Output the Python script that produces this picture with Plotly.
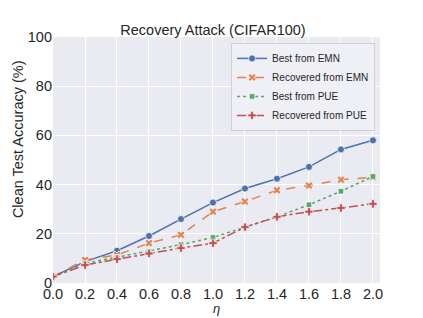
import plotly.graph_objects as go

eta = [0.0, 0.2, 0.4, 0.6, 0.8, 1.0, 1.2, 1.4, 1.6, 1.8, 2.0]
best_emn = [2.6, 8.7, 13.1, 19.1, 26.0, 32.7, 38.4, 42.4, 47.2, 54.3, 58.0]
rec_emn = [2.6, 9.4, 11.4, 16.2, 19.6, 29.0, 33.1, 37.7, 39.6, 42.0, 43.0]
best_pue = [2.6, 8.0, 10.5, 12.9, 15.6, 18.5, 22.7, 26.9, 31.8, 37.3, 43.3]
rec_pue = [2.6, 7.3, 9.7, 12.0, 14.2, 16.2, 22.7, 26.9, 29.0, 30.5, 32.2]
y_ticks = [0, 20, 40, 60, 80, 100]

series = [
    ("Best from EMN", best_emn, "#4C72B0", "solid", "circle", 7),
    ("Recovered from EMN", rec_emn, "#DD8452", "dash", "x", 7),
    ("Best from PUE", best_pue, "#55A868", "dot", "square", 5.5),
    ("Recovered from PUE", rec_pue, "#C44E52", "dashdot", "cross", 7),
]

fig = go.Figure()
for name, ys, col, dash, sym, sz in series:
    fig.add_trace(go.Scatter(
        x=eta, y=ys, name=name, mode="lines+markers",
        line=dict(color=col, width=1.5, dash=dash),
        marker=dict(symbol=sym, size=sz, color=col, line=dict(color="white", width=0.7)),
    ))

font = "Arial, Liberation Sans, sans-serif"
fig.update_layout(
    width=415, height=310,
    margin=dict(l=45, r=43, t=29, b=35, autoexpand=False),
    paper_bgcolor="white", plot_bgcolor="#EAEAF2",
    font=dict(family=font, color="#262626"),
    title=dict(text="Recovery Attack (CIFAR100)", x=0.494, xanchor="center",
               y=0.929, yanchor="middle", font=dict(size=14.5, color="#262626")),
    showlegend=True,
    legend=dict(x=0.985, y=0.976, xanchor="right", yanchor="top",
                bgcolor="rgba(240,240,246,0.9)", bordercolor="#D0D0D0", borderwidth=1,
                font=dict(size=10, color="#262626"), tracegroupgap=0,
                itemwidth=30),
    annotations=[dict(
        text="Clean Test Accuracy (%)", textangle=-90, showarrow=False,
        xref="paper", yref="paper", x=-0.107, y=0.585,
        xanchor="center", yanchor="middle",
        font=dict(size=14.5, color="#262626"),
    )],
)
fig.update_xaxes(
    range=[0, 2.044], tickvals=eta, tickformat=".1f", automargin=False,
    showgrid=True, gridcolor="white", gridwidth=1.2, zeroline=False,
    showline=False, ticks="", tickfont=dict(size=14.5, color="#262626"),
    title=dict(text="<i>η</i>", font=dict(size=13), standoff=1),
)
fig.update_yaxes(
    range=[0, 100], tickvals=y_ticks, automargin=False,
    showgrid=True, gridcolor="white", gridwidth=1.2, zeroline=False,
    showline=False, ticks="", tickfont=dict(size=14.5, color="#262626"),
)
fig.write_html("out.html")
